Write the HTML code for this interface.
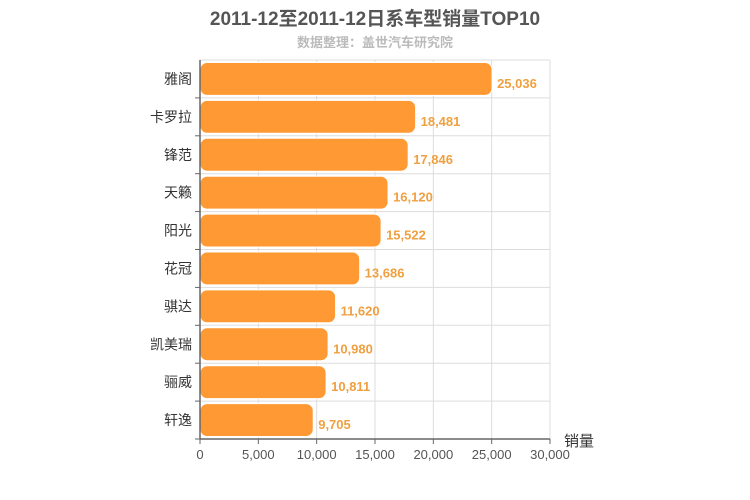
<!DOCTYPE html>
<html><head><meta charset="utf-8"><style>
body{margin:0;background:#fff;}
svg{display:block;font-family:"Liberation Sans","Noto Sans CJK SC",sans-serif;}
</style></head><body>
<svg id="c" width="750" height="500">
<text x="375" y="25" text-anchor="middle" font-size="19" font-weight="bold" fill="#555">2011-12至2011-12日系车型销量TOP10</text>
<text x="375" y="47" text-anchor="middle" font-size="13" font-weight="bold" fill="#bbb">数据整理：盖世汽车研究院</text>
<text x="564" y="446" font-size="15" fill="#333">销量</text>
</svg>
<script>
const categories=["雅阁","卡罗拉","锋范","天籁","阳光","花冠","骐达","凯美瑞","骊威","轩逸"];
const values=[25036,18481,17846,16120,15522,13686,11620,10980,10811,9705];
const ticks=[0,5000,10000,15000,20000,25000,30000];
const tickLabels=["0","5,000","10,000","15,000","20,000","25,000","30,000"];
const svg=document.getElementById('c');const NS='http://www.w3.org/2000/svg';
const X0=200,X1=550,Y0=60,Y1=439,MAX=30000;
const xs=v=>X0+(v/MAX)*(X1-X0);
const rh=(Y1-Y0)/categories.length;
function mk(t,a){const e=document.createElementNS(NS,t);for(const k in a)e.setAttribute(k,a[k]);svg.appendChild(e);return e;}
for(let i=0;i<=categories.length;i++){const y=Y0+i*rh;const l=mk('line',{x1:X0,x2:X1,y1:y,y2:y,stroke:'#ddd'});

}
ticks.forEach((t,i)=>{const x=xs(t);
if(i>0){const g=mk('line',{x1:x,x2:x,y1:Y0,y2:Y1,stroke:'#ddd'});

}
const tk=mk('line',{x1:x,x2:x,y1:Y1,y2:Y1+5,stroke:'#666'});


const tx=mk('text',{x:x,y:Y1+20,'text-anchor':'middle','font-size':13,fill:'#555'});tx.textContent=tickLabels[i];

});
categories.forEach((c,i)=>{const y=Y0+i*rh;
const tk=mk('line',{x1:X0-5,x2:X0,y1:y+rh,y2:y+rh,stroke:'#666'});


const b=mk('rect',{x:X0,y:y+2.5,width:xs(values[i])-X0,height:rh-5,rx:7,ry:7,fill:'#FF9933',stroke:'#fff','stroke-width':1});


const lb=mk('text',{x:X0-8,y:y+rh/2+5,'text-anchor':'end','font-size':14,fill:'#333'});lb.textContent=c;


const v=mk('text',{x:xs(values[i])+5,y:y+rh/2+9,'font-size':13,'font-weight':'bold',fill:'#F0A040'});v.textContent=values[i].toLocaleString('en-US');

});
const ya=mk('line',{x1:X0,x2:X0,y1:Y0,y2:Y1,stroke:'#666','stroke-width':1.5});


const xa=mk('line',{x1:X0,x2:X1,y1:Y1,y2:Y1,stroke:'#666','stroke-width':1.5});


</script>
</body></html>
